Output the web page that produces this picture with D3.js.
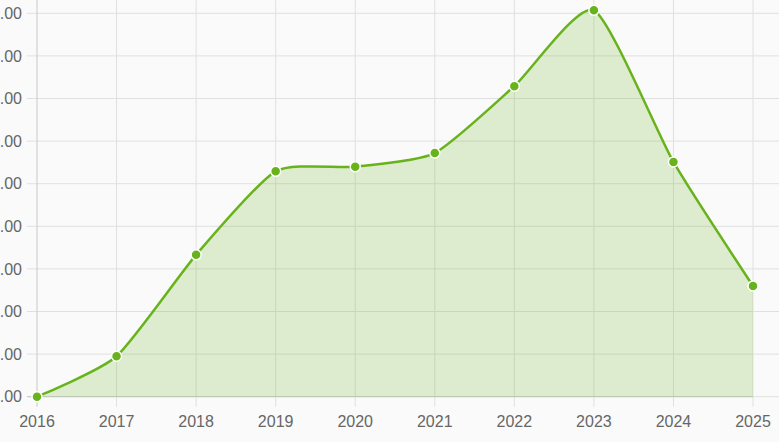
<!DOCTYPE html>
<meta charset="utf-8">
<style>
body { margin: 0; background: #fafafa; }
svg { display: block; font-family: "Helvetica Neue", Helvetica, Arial, "Liberation Sans", sans-serif; }
</style>
<svg width="779" height="442"></svg>
<script src="https://d3js.org/d3.v7.min.js"></script>
<script>

var years = [2016, 2017, 2018, 2019, 2020, 2021, 2022, 2023, 2024, 2025];
var values = [0, 0.95, 3.33, 5.29, 5.40, 5.72, 7.29, 9.07, 5.51, 2.60];
var yTicks = [0, 1, 2, 3, 4, 5, 6, 7, 8, 9];

var svg = d3.select("svg"),
    width = +svg.attr("width"),
    height = +svg.attr("height"),
    margin = {top: 13.3, right: 26, bottom: 45.3, left: 37};

var x = d3.scalePoint()
    .domain(years)
    .range([margin.left, width - margin.right]);

var y = d3.scaleLinear()
    .domain([0, 9])
    .range([height - margin.bottom, margin.top]);

svg.append("rect").attr("width", width).attr("height", height).attr("fill", "#fafafa");

// horizontal grid
svg.append("g")
  .selectAll("line")
  .data(yTicks)
  .enter().append("line")
    .attr("x1", margin.left - 10)
    .attr("x2", width)
    .attr("y1", function(d) { return y(d); })
    .attr("y2", function(d) { return y(d); })
    .attr("stroke", "#e0e0e0")
    .attr("stroke-width", 1);

// vertical grid
svg.append("g")
  .selectAll("line")
  .data(years.slice(1))
  .enter().append("line")
    .attr("x1", function(d) { return x(d); })
    .attr("x2", function(d) { return x(d); })
    .attr("y1", 0)
    .attr("y2", y(0) + 10)
    .attr("stroke", "#e0e0e0")
    .attr("stroke-width", 1);

// axis lines
svg.append("line")
    .attr("x1", x(years[0])).attr("x2", x(years[0]))
    .attr("y1", 0).attr("y2", y(0) + 10)
    .attr("stroke", "#c8c8c8");
svg.append("line")
    .attr("x1", margin.left - 10).attr("x2", x(years[years.length - 1]))
    .attr("y1", y(0)).attr("y2", y(0))
    .attr("stroke", "#c8c8c8");

var data = years.map(function(d, i) { return {year: d, value: values[i]}; });

var curve = d3.curveCardinal.tension(0.4);

var area = d3.area()
    .curve(curve)
    .x(function(d) { return x(d.year); })
    .y0(y(0))
    .y1(function(d) { return y(d.value); });

var line = d3.line()
    .curve(curve)
    .x(function(d) { return x(d.year); })
    .y(function(d) { return y(d.value); });

svg.append("path")
    .datum(data)
    .attr("d", area)
    .attr("fill", "rgba(106, 180, 30, 0.2)");

svg.append("path")
    .datum(data)
    .attr("d", line)
    .attr("fill", "none")
    .attr("stroke", "#68b31c")
    .attr("stroke-width", 2.5);

svg.append("g")
  .selectAll("circle")
  .data(data)
  .enter().append("circle")
    .attr("cx", function(d) { return x(d.year); })
    .attr("cy", function(d) { return y(d.value); })
    .attr("r", 5)
    .attr("fill", "#68b31c")
    .attr("stroke", "#fff")
    .attr("stroke-width", 1.5);

// y labels
svg.append("g")
  .selectAll("text")
  .data(yTicks)
  .enter().append("text")
    .attr("x", margin.left - 15)
    .attr("y", function(d) { return y(d); })
    .attr("dy", "0.36em")
    .attr("text-anchor", "end")
    .attr("font-size", 16)
    .attr("fill", "#666")
    .text(function(d) { return d3.format(".2f")(d); });

// x labels
svg.append("g")
  .selectAll("text")
  .data(years)
  .enter().append("text")
    .attr("x", function(d) { return x(d); })
    .attr("y", 427)
    .attr("text-anchor", "middle")
    .attr("font-size", 16)
    .attr("fill", "#666")
    .text(function(d) { return d; });

</script>
